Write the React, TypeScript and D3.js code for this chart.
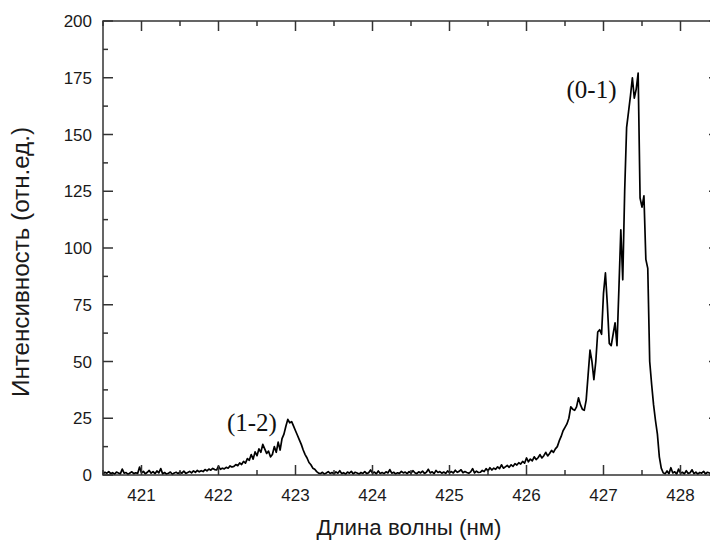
import React from "react";
import * as d3 from "d3";

// Spectrum sampled every 0.025 nm; each segment starts at its own wavelength.
const STEP = 0.025;
const seg1Start = 420.5;
const seg1 = [0.5,1.2,0.8,1.5,0.6,1.0,0.4,1.3,0.9,0.5,2.6,0.8,1.1,0.3,0.9,1.4,0.6,1.0,0.7,3.5,0.9,1.6,0.5,1.2,2.0,0.8,1.5,0.6,1.8,0.9,2.8,0.5,1.1,0.4,0.8,1.3,0.3,0.9,1.2,0.6,1.4,0.8,1.7,0.7,1.1,1.6,0.9,1.8,1.2,2.0,1.4,1.9];
const seg2Start = 421.8;
const seg2 = [1.5,2.4,1.8,2.6,2.1,2.9,2.4,2.2,3.9,2.5,3.0,2.7,3.4,3.0,4.0,3.5,3.8,4.6,4.1,5.3,4.6,6.0,5.2,7.2,6.5,9.0,7.0,10.2,8.5,11.5,10.0,13.5,11.5,9.5,10.5,8.0,9.0,12.5,10.0,14.5,11.0,16.0,18.0,21.5,24.5,23.0,23.5,21.5,19.5,17.5,15.5,13.5,11.0,9.0,7.5,5.5,4.5,3.0,2.5,1.5,0.8];
const seg3Start = 423.325;
const seg3 = [0.6,1.2,0.4,0.9,1.5,0.7,1.1,0.5,1.4,0.8,1.9,0.6,1.0,0.4,1.3,0.8,1.6,0.5,1.2,0.9,0.4,1.1,0.7,1.5,0.6,1.0,2.2,0.8,1.3,0.5,1.8,0.7,1.1,0.6,1.4,0.9,2.4,0.8,1.2,0.5,1.0,0.7,1.6,0.9,1.3,0.6,1.5,0.8,1.9,1.0,0.6,1.4,0.9,1.7,0.7,1.2,2.5,0.9,1.4,0.6,2.0,1.1,1.5,0.8,1.3,0.7,1.8,1.0,1.5,0.9,2.1,1.2,1.6,2.3,1.0,1.5,1.1,0.8,1.4,2.8,0.9,1.7,1.1];
const seg4Start = 425.4;
const seg4 = [1.2,2.0,1.5,2.8,1.8,3.2,2.2,3.0,2.5,3.6,2.8,4.5,3.0,3.6,4.2,3.4,4.5,3.8,5.0,4.4,5.4,4.8,6.0,5.2,7.5,5.8,7.0,6.2,8.0,6.8,7.6,9.0,7.5,8.5,10.0,8.4,9.5,10.8,10.0,11.5,12.5,15.0,17.0,19.5,21.0,22.5,25.0,30.0,29.0,28.5,30.0,34.0,31.0,29.0,28.5,33.0,44.0,55.0,50.0,42.0,50.0,63.0,64.0,62.0,80.0,89.0,75.0,58.0,57.0,62.0,67.0,57.0,82.0,108.0,86.0,125.0,153.0,160.0,167.0,175.0,166.0,170.0,177.0,122.0,118.0,123.0,95.0,91.0,50.0,40.0,31.0,24.0,18.0,8.0,3.0,1.0];
const seg5Start = 427.8;
const seg5 = [0.5,1.8,0.6,3.2,0.9,1.4,0.4,2.6,0.8,1.2,0.5,1.9,0.7,1.0,2.3,0.6,1.3,0.4,1.1,0.8,1.6,0.5,1.2,0.9,0.6,1.4,0.8,1.0,0.7];

const xTicks = [421, 422, 423, 424, 425, 426, 427, 428];
const yTicks = [0, 25, 50, 75, 100, 125, 150, 175, 200];
const xMinor = [420.5, 421.5, 422.5, 423.5, 424.5, 425.5, 426.5, 427.5, 428.5];
const yMinor = [12.5, 37.5, 62.5, 87.5, 112.5, 137.5, 162.5, 187.5];

const annotations = [
  { label: "(1-2)", x: 422.11, y: 19.2 },
  { label: "(0-1)", x: 426.52, y: 166 },
];

const xTitle = "Длина волны (нм)";
const yTitle = "Интенсивность (отн.ед.)";

const segments: [number, number[]][] = [
  [seg1Start, seg1],
  [seg2Start, seg2],
  [seg3Start, seg3],
  [seg4Start, seg4],
  [seg5Start, seg5],
];

const points: [number, number][] = [];
segments.forEach(([s, vals]) => vals.forEach((v, i) => points.push([s + i * STEP, v])));

export default function App() {
  const W = 710, H = 540;
  const L = 103, R = 719, T = 21, B = 475;
  const x = d3.scaleLinear().domain([420.5, 428.5]).range([L, R]);
  const y = d3.scaleLinear().domain([0, 200]).range([B, T]);
  const line = d3.line<[number, number]>().x(d => x(d[0])).y(d => y(d[1]));
  const axisColor = "#333";
  const textColor = "#1a1a1a";
  const sans = "Arial, 'Liberation Sans', sans-serif";
  const major = 10, minor = 5;
  return (
    <svg width={W} height={H} style={{ position: "absolute", left: 0, top: 0, background: "#fff" }}>
      <rect x={0} y={0} width={W} height={H} fill="#fff" />
      <path d={line(points) || ""} fill="none" stroke="#000" strokeWidth={1.7} strokeLinejoin="round" />
      <rect x={L} y={T} width={R - L} height={B - T} fill="none" stroke={axisColor} strokeWidth={1.5} />
      {xTicks.map(t => (
        <g key={"xt" + t}>
          <line x1={x(t)} x2={x(t)} y1={B} y2={B - major} stroke={axisColor} strokeWidth={1.5} />
          <line x1={x(t)} x2={x(t)} y1={T} y2={T + major} stroke={axisColor} strokeWidth={1.5} />
          <text x={x(t)} y={501} textAnchor="middle" fontFamily={sans} fontSize={17} fill={textColor}>{t}</text>
        </g>
      ))}
      {xMinor.map(t => (
        <g key={"xm" + t}>
          <line x1={x(t)} x2={x(t)} y1={B} y2={B - minor} stroke={axisColor} strokeWidth={1.5} />
          <line x1={x(t)} x2={x(t)} y1={T} y2={T + minor} stroke={axisColor} strokeWidth={1.5} />
        </g>
      ))}
      {yTicks.map(t => (
        <g key={"yt" + t}>
          <line x1={L} x2={L + major} y1={y(t)} y2={y(t)} stroke={axisColor} strokeWidth={1.5} />
          <line x1={R} x2={R - major} y1={y(t)} y2={y(t)} stroke={axisColor} strokeWidth={1.5} />
          <text x={92} y={y(t)} dy="0.36em" textAnchor="end" fontFamily={sans} fontSize={17} fill={textColor}>{t}</text>
        </g>
      ))}
      {yMinor.map(t => (
        <g key={"ym" + t}>
          <line x1={L} x2={L + minor} y1={y(t)} y2={y(t)} stroke={axisColor} strokeWidth={1.5} />
          <line x1={R} x2={R - minor} y1={y(t)} y2={y(t)} stroke={axisColor} strokeWidth={1.5} />
        </g>
      ))}
      <text x={409} y={535} textAnchor="middle" fontFamily={sans} fontSize={22} textLength={185} lengthAdjust="spacingAndGlyphs" fill={textColor}>{xTitle}</text>
      <text transform="translate(29,262) rotate(-90)" textAnchor="middle" fontFamily={sans} fontSize={23} textLength={270} lengthAdjust="spacingAndGlyphs" fill={textColor}>{yTitle}</text>
      {annotations.map(a => (
        <text key={a.label} x={x(a.x)} y={y(a.y)} fontFamily="'Liberation Serif', 'Times New Roman', serif" fontSize={25} fill="#111">{a.label}</text>
      ))}
    </svg>
  );
}
